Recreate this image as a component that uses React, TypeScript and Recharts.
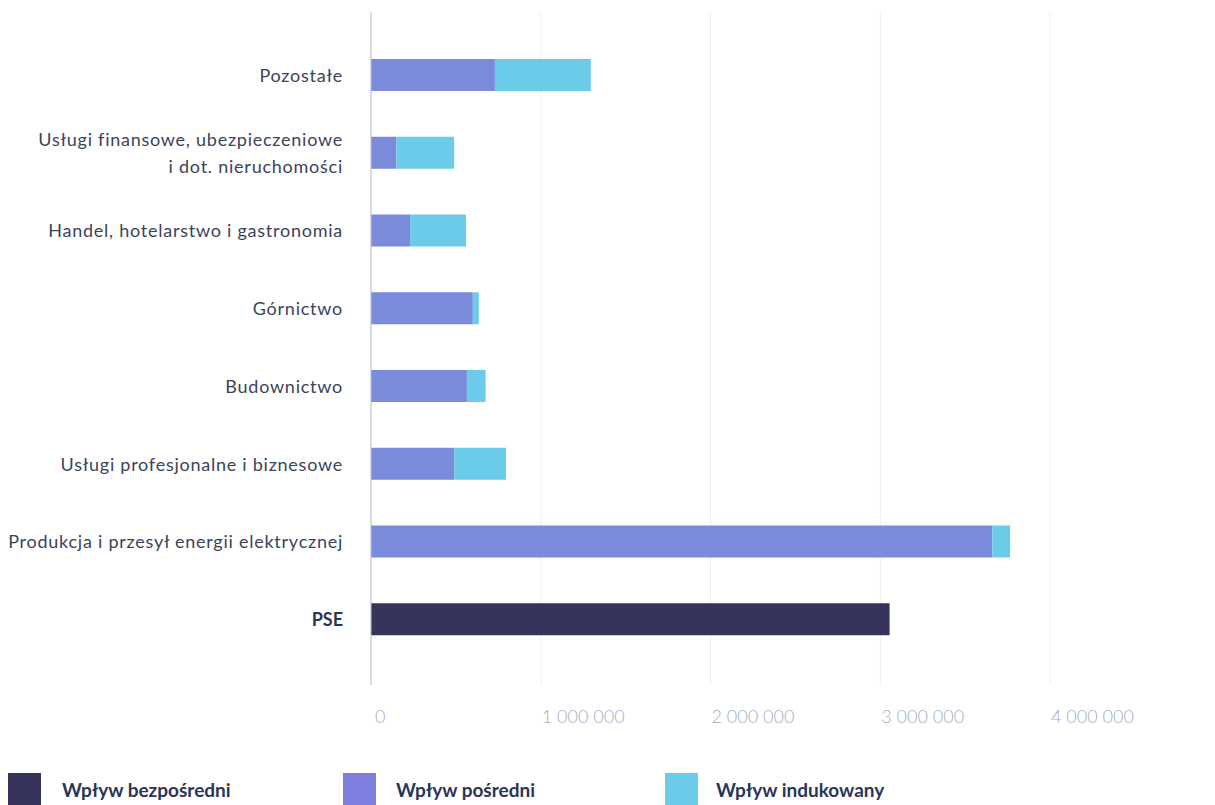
import { BarChart, Bar, XAxis, YAxis, CartesianGrid } from "recharts";

const categories = [
  "Pozostałe",
  "Usługi finansowe, ubezpieczeniowe\ni dot. nieruchomości",
  "Handel, hotelarstwo i gastronomia",
  "Górnictwo",
  "Budownictwo",
  "Usługi profesjonalne i biznesowe",
  "Produkcja i przesył energii elektrycznej",
  "PSE",
];

const direct = [0, 0, 0, 0, 0, 0, 0, 3055000];
const indirect = [730000, 150000, 230000, 600000, 565000, 490000, 3660000, 0];
const induced = [565000, 340000, 330000, 35000, 110000, 305000, 105000, 0];

const xTicks = [0, 1000000, 2000000, 3000000, 4000000];

const series = [
  { key: "direct", name: "Wpływ bezpośredni", color: "#37345c", legendColor: "#37345c" },
  { key: "indirect", name: "Wpływ pośredni", color: "#7a8bdc", legendColor: "#7f7fdf" },
  { key: "induced", name: "Wpływ indukowany", color: "#6ccbe8", legendColor: "#6ccbe8" },
];

const data = categories.map((cat, i) => ({
  cat,
  direct: direct[i],
  indirect: indirect[i],
  induced: induced[i],
}));

const FONT = "Lato, 'Noto Sans', sans-serif";

const fmt = (v: number) => String(v).replace(/\B(?=(\d{3})+(?!\d))/g, " ");

function CategoryTick(props: any) {
  const { x, y, payload } = props;
  const lines = String(payload.value).split("\n");
  const bold = payload.value === "PSE";
  const lh = 27;
  const start = y - ((lines.length - 1) * lh) / 2;
  return (
    <text
      x={x}
      y={start}
      textAnchor="end"
      dominantBaseline="central"
      fontFamily={FONT}
      fontSize={18}
      letterSpacing={bold ? 0 : 0.75}
      fontWeight={bold ? 700 : 400}
      fill={bold ? "#2b3556" : "#3b4459"}
    >
      {lines.map((l, k) => (
        <tspan key={k} x={x} dy={k === 0 ? 0 : lh}>
          {l}
        </tspan>
      ))}
    </text>
  );
}

function ValueTick(props: any) {
  const { x, y, payload } = props;
  return (
    <text
      x={x + (payload.value === 0 ? 4 : 1)}
      y={y}
      textAnchor="start"
      dominantBaseline="central"
      fontFamily={FONT}
      fontSize={18}
      fontWeight={300}
      fill="#a3afc4"
    >
      {fmt(payload.value)}
    </text>
  );
}

export default function App() {
  return (
    <div style={{ position: "absolute", left: 0, top: 0, width: 1215, height: 805, background: "#fff" }}>
      <BarChart
        width={1215}
        height={805}
        data={data}
        layout="vertical"
        margin={{ top: 12, right: 165, left: 0, bottom: 80 }}
        barSize={32}
      >
        <CartesianGrid horizontal={false} stroke="#eef0f4" />
        <XAxis
          type="number"
          domain={[0, 4000000]}
          ticks={xTicks}
          axisLine={false}
          tickLine={false}
          height={40}
          tickSize={0}
          tickMargin={31}
          tick={<ValueTick />}
        />
        <YAxis
          type="category"
          dataKey="cat"
          width={371}
          axisLine={{ stroke: "#b8bfca" }}
          tickLine={false}
          tickSize={0}
          tickMargin={28}
          interval={0}
          padding={{ top: 24, bottom: 27 }}
          tick={<CategoryTick />}
        />
        {series.map((s) => (
          <Bar key={s.key} dataKey={s.key} name={s.name} stackId="a" fill={s.color} isAnimationActive={false} />
        ))}
      </BarChart>
      {series.map((s, i) => (
        <div
          key={s.key}
          style={{
            position: "absolute",
            left: [8, 343, 665][i],
            top: 773,
            display: "flex",
            alignItems: "center",
            fontFamily: FONT,
            fontWeight: 700,
            fontSize: 19,
            color: "#2b3556",
          }}
        >
          <span style={{ width: 33, height: 32, background: s.legendColor, display: "inline-block" }} />
          <span style={{ marginLeft: [21, 20, 18][i] }}>{s.name}</span>
        </div>
      ))}
    </div>
  );
}
